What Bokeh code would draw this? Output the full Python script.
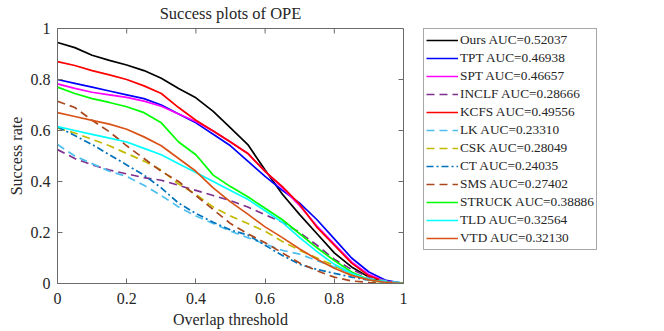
import math
from bokeh.plotting import figure
from bokeh.layouts import row
from bokeh.models import LinearAxis, FixedTicker, Range1d, Legend, LegendItem
from bokeh.embed import file_html
from bokeh.resources import INLINE

# ---------------- data ----------------
thr = [0.0, 0.05, 0.1, 0.15, 0.2, 0.25, 0.3, 0.35, 0.4, 0.45, 0.5,
       0.55, 0.6, 0.65, 0.7, 0.75, 0.8, 0.85, 0.9, 0.95, 1.0]

names = ["Ours", "TPT", "SPT", "INCLF", "KCFS", "LK", "CSK", "CT", "SMS", "STRUCK", "TLD", "VTD"]
aucs = ["0.52037", "0.46938", "0.46657", "0.28666", "0.49556", "0.23310",
        "0.28049", "0.24035", "0.27402", "0.38886", "0.32564", "0.32130"]

ours = [0.945, 0.925, 0.895, 0.875, 0.857, 0.835, 0.805, 0.765, 0.728, 0.675, 0.61,
        0.545, 0.445, 0.35, 0.27, 0.195, 0.12, 0.065, 0.025, 0.007, 0.0]
tpt = [0.80, 0.785, 0.77, 0.755, 0.74, 0.725, 0.70, 0.665, 0.63, 0.585, 0.54,
       0.48, 0.42, 0.365, 0.315, 0.25, 0.175, 0.10, 0.045, 0.012, 0.0]
spt = [0.783, 0.765, 0.75, 0.74, 0.73, 0.715, 0.695, 0.665, 0.635, 0.598, 0.555,
       0.51, 0.44, 0.375, 0.305, 0.225, 0.155, 0.085, 0.035, 0.008, 0.0]
inclf = [0.525, 0.49, 0.465, 0.445, 0.43, 0.415, 0.405, 0.385, 0.365, 0.345, 0.325,
         0.30, 0.27, 0.24, 0.20, 0.15, 0.095, 0.055, 0.025, 0.01, 0.0]
kcfs = [0.87, 0.855, 0.835, 0.818, 0.80, 0.775, 0.745, 0.69, 0.64, 0.598, 0.555,
        0.51, 0.44, 0.38, 0.31, 0.22, 0.15, 0.08, 0.03, 0.006, 0.0]
lk = [0.545, 0.50, 0.47, 0.44, 0.42, 0.385, 0.345, 0.30, 0.265, 0.235, 0.205,
      0.18, 0.155, 0.13, 0.115, 0.09, 0.065, 0.04, 0.02, 0.01, 0.003]
csk = [0.61, 0.59, 0.565, 0.54, 0.51, 0.48, 0.445, 0.39, 0.35, 0.30, 0.265,
       0.235, 0.205, 0.165, 0.13, 0.10, 0.07, 0.035, 0.012, 0.003, 0.0]
ct = [0.615, 0.58, 0.545, 0.505, 0.465, 0.425, 0.375, 0.315, 0.275, 0.24, 0.21,
      0.19, 0.15, 0.11, 0.075, 0.055, 0.04, 0.025, 0.013, 0.005, 0.0]
sms = [0.715, 0.69, 0.64, 0.595, 0.54, 0.49, 0.44, 0.40, 0.345, 0.29, 0.235,
       0.195, 0.16, 0.12, 0.08, 0.05, 0.025, 0.01, 0.004, 0.001, 0.0]
struck = [0.77, 0.745, 0.725, 0.71, 0.693, 0.67, 0.63, 0.555, 0.505, 0.425, 0.38,
          0.34, 0.295, 0.25, 0.195, 0.14, 0.09, 0.045, 0.015, 0.005, 0.0]
tld = [0.615, 0.60, 0.585, 0.57, 0.555, 0.53, 0.505, 0.47, 0.435, 0.40, 0.365,
       0.33, 0.285, 0.24, 0.18, 0.125, 0.075, 0.04, 0.015, 0.005, 0.0]
vtd = [0.67, 0.655, 0.64, 0.625, 0.605, 0.575, 0.54, 0.49, 0.44, 0.375, 0.32,
       0.272, 0.222, 0.18, 0.135, 0.095, 0.06, 0.032, 0.014, 0.004, 0.0]

series = [ours, tpt, spt, inclf, kcfs, lk, csk, ct, sms, struck, tld, vtd]

ticks = [0, 0.2, 0.4, 0.6, 0.8, 1]
tick_labels = ["0", "0.2", "0.4", "0.6", "0.8", "1"]

# ---------------- styles ----------------
colors = ["#000000", "#0000FF", "#FF00FF", "#7E2F8E", "#FF0000", "#4DBEEE",
          "#C2BA00", "#0072BD", "#A9481F", "#00FF00", "#00FFFF", "#D95319"]
dashes = ["solid", "solid", "solid", "8 5", "solid", "8 5",
          "8 5", "7 3 2 3", "8 5", "solid", "solid", "solid"]

FONT = "Liberation Serif"
AX = "#6b6b6b"
TXT = "#262626"
LW = 1.7
TICK_LEN = 5

# ---------------- main plot ----------------
x_rng = Range1d(0, 1)
y_rng = Range1d(0, 1)
p = figure(width=417, height=331, output_backend="svg", toolbar_location=None,
           x_range=x_rng, y_range=y_rng,
           min_border_left=57, min_border_right=14, min_border_top=25, min_border_bottom=48)
p.xgrid.visible = False
p.ygrid.visible = False
p.outline_line_color = AX
p.background_fill_color = "white"
p.border_fill_color = "white"

xa = p.below[0]
ya = p.left[0]

for s, c, d in zip(series, colors, dashes):
    p.line(thr, s, line_color=c, line_width=LW, line_dash=d)

# mirrored inward ticks on the top and right edges of the box
p.ray(x=ticks, y=[y_rng.end] * len(ticks), length=TICK_LEN, length_units="screen",
      angle=-math.pi / 2, line_color=AX, line_width=1)
p.ray(x=[x_rng.end] * len(ticks), y=ticks, length=TICK_LEN, length_units="screen",
      angle=math.pi, line_color=AX, line_width=1)

overrides = {t: l for t, l in zip(ticks, tick_labels)}
for ax in [xa, ya]:
    ax.ticker = FixedTicker(ticks=ticks)
    ax.major_label_overrides = overrides
    ax.major_tick_in = TICK_LEN
    ax.major_tick_out = 0
    ax.minor_tick_in = 0
    ax.minor_tick_out = 0
    ax.axis_line_color = AX
    ax.major_tick_line_color = AX
    ax.major_label_text_font = FONT
    ax.major_label_text_font_size = "16px"
    ax.major_label_text_color = TXT
    ax.axis_label_text_font = FONT
    ax.axis_label_text_font_size = "16px"
    ax.axis_label_text_font_style = "normal"
    ax.axis_label_text_color = TXT

xa.major_label_standoff = 9
ya.major_label_standoff = 7
xa.axis_label = "Overlap threshold"
xa.axis_label_standoff = 4
ya.axis_label = "Success rate"
ya.axis_label_standoff = 3

# chart title, centred over the plot frame (carried by a tick-less top axis)
top = LinearAxis(ticker=FixedTicker(ticks=[]), axis_line_color=None,
                 major_tick_line_color=None, minor_tick_line_color=None,
                 axis_label="Success plots of OPE", axis_label_standoff=6,
                 axis_label_text_font=FONT, axis_label_text_font_size="16.5px",
                 axis_label_text_font_style="normal", axis_label_text_color=TXT)
p.add_layout(top, "above")

# ---------------- legend panel ----------------
q = figure(width=240, height=331, output_backend="svg", toolbar_location=None,
           x_range=Range1d(0, 1), y_range=Range1d(2, 3),
           x_axis_location=None, y_axis_location=None,
           min_border_left=6, min_border_right=0, min_border_top=25, min_border_bottom=0)
q.grid.visible = False
q.outline_line_color = None
q.background_fill_color = "white"
q.border_fill_color = "white"

items = []
for s, name, auc, c, d in zip(series, names, aucs, colors, dashes):
    r = q.line(thr, s, line_color=c, line_width=LW, line_dash=d)
    items.append(LegendItem(label=f"{name} AUC={auc}", renderers=[r]))

lg = Legend(items=items, location="top_left")
lg.label_text_font = FONT
lg.label_text_font_size = "13.3px"
lg.label_text_color = TXT
lg.label_height = 18
lg.glyph_height = 18
lg.glyph_width = 32
lg.label_standoff = 2
lg.spacing = 0
lg.padding = 2
lg.margin = 0
lg.border_line_color = "#4d4d4d"
lg.border_line_width = 1
lg.background_fill_color = "white"
lg.background_fill_alpha = 1.0
q.add_layout(lg)

layout = row(p, q)
open("out.html", "w").write(file_html(layout, INLINE))
